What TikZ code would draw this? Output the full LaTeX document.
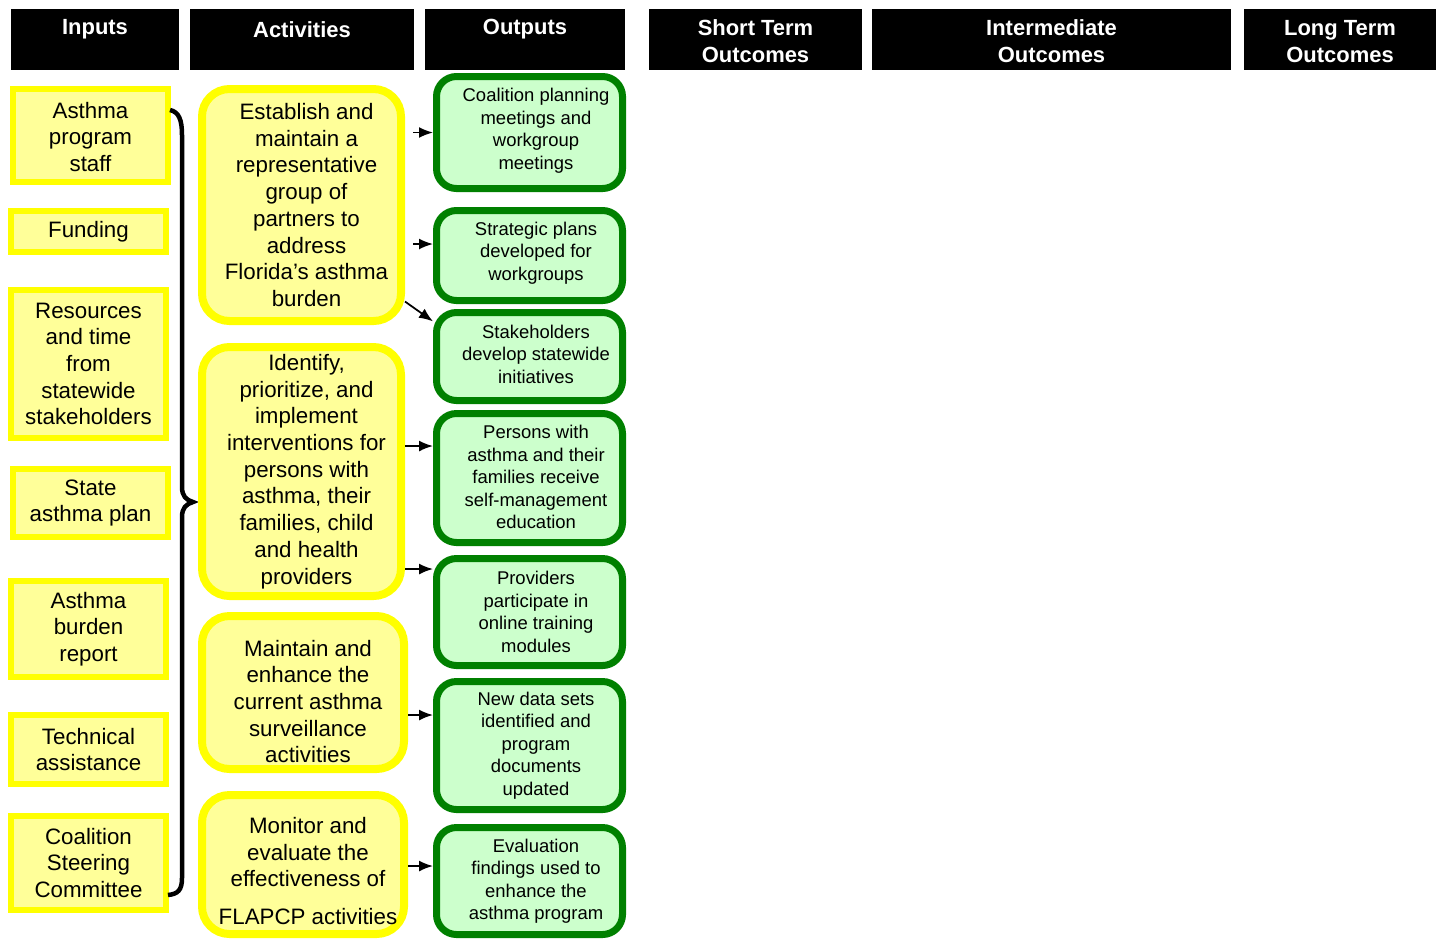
\documentclass[tikz,border=0pt]{standalone}
\usepackage{fontspec}
\setmainfont{Liberation Sans}
\usetikzlibrary{fit,arrows.meta}
\definecolor{boxyellow}{HTML}{FFFF00}
\definecolor{paleyellow}{HTML}{FFFF99}
\definecolor{darkgreen}{HTML}{008000}
\definecolor{palegreen}{HTML}{CCFFCC}

\begin{document}
\begin{tikzpicture}[x=0.02cm, y=-0.02cm,
  header/.style={fill=black, inner sep=0pt},
  headtext/.style={text=white, align=center, font=\bfseries\fontsize{12.5}{15.3}\selectfont},
  inbox/.style={draw=boxyellow, fill=paleyellow, line width=0.12cm, inner sep=0pt},
  intext/.style={align=center, font=\fontsize{12.7}{15.2}\selectfont},
  actbox/.style={draw=boxyellow, fill=paleyellow, line width=0.16cm, inner sep=0pt,
    rounded corners=0.55cm},
  acttext/.style={align=center, font=\fontsize{12.7}{15.2}\selectfont, xshift=0.1cm},
  outbox/.style={draw=darkgreen, fill=palegreen, line width=0.14cm, inner sep=0pt,
    rounded corners=0.4cm},
  outtext/.style={align=center, font=\fontsize{10.5}{12.8}\selectfont, xshift=0.13cm},
  arr/.style={-{Latex[length=0.28cm,width=0.22cm]}, line width=0.035cm}]
\clip (0,0) rectangle (1436,938);

% column headers
\node[header, fit={(11,9) (179,70)}, label={[headtext, yshift=0.2cm]center:Inputs}] (hin) {};
\node[header, fit={(190,9) (414,70)}, label={[headtext, yshift=0.2cm]center:Activities}] (hact) {};
\node[header, fit={(425,9) (625,70)}, label={[headtext, yshift=0.2cm]center:Outputs}] (hout) {};
\node[header, fit={(649,9) (862,70)}, label={[headtext, yshift=-0.04cm]center:{Short Term\\Outcomes}}] (hshort) {};
\node[header, fit={(872,9) (1231,70)}, label={[headtext, yshift=-0.04cm]center:{Intermediate\\Outcomes}}] (hmid) {};
\node[header, fit={(1244,9) (1436,70)}, label={[headtext, yshift=-0.04cm]center:{Long Term\\Outcomes}}] (hlong) {};

% inputs
\node[inbox, fit={(13,89) (168,182)}, label={[intext, yshift=-0.03cm]center:{Asthma\\program\\staff}}] (in1) {};
\node[inbox, fit={(11,211) (166,252)}, label={[intext]center:Funding}] (in2) {};
\node[inbox, fit={(11,290) (166,438)}, label={[intext]center:{Resources\\and time\\from\\statewide\\stakeholders}}] (in3) {};
\node[inbox, fit={(13,469) (168,537)}, label={[intext]center:{State\\asthma plan}}] (in4) {};
\node[inbox, fit={(11,581) (166,677)}, label={[intext]center:{Asthma\\burden\\report}}] (in5) {};
\node[inbox, fit={(11,715) (166,784)}, label={[intext]center:{Technical\\assistance}}] (in6) {};
\node[inbox, fit={(11,816) (166,910)}, label={[intext]center:{Coalition\\Steering\\Committee}}] (in7) {};

\draw[line width=0.09cm] (170,110) .. controls (179,112) and (182,120) .. (182,135)
  -- (182,487) .. controls (182,496) and (186,500) .. (193,502)
  .. controls (186,504) and (182,508) .. (182,517)
  -- (182,878) .. controls (182,890) and (178,894) .. (168,895);

% activities
\node[actbox, fit={(202,89) (401,321)}, label={[acttext]center:{Establish and\\maintain a\\representative\\group of\\partners to\\address\\Florida’s asthma\\burden}}] (act1) {};
\node[actbox, fit={(202,347) (401,596)}, label={[acttext]center:{Identify,\\prioritize, and\\implement\\interventions for\\persons with\\asthma, their\\families, child\\and health\\providers}}] (act2) {};
\node[actbox, fit={(202,616) (404,769)}, label={[acttext, yshift=-0.18cm]center:{Maintain and\\enhance the\\current asthma\\surveillance\\activities}}] (act3) {};
\node[actbox, fit={(202,795) (404,934)}, label={[acttext, yshift=-0.13cm]center:{Monitor and\\evaluate the\\effectiveness of\\[0.22cm]FLAPCP activities}}] (act4) {};

% outputs
\node[outbox, fit={(436.5,76.5) (622.5,188.5)}, label={[outtext, yshift=0.04cm]center:{Coalition planning\\meetings and\\workgroup\\meetings}}] (out1) {};
\node[outbox, fit={(436.5,210.5) (622.5,300.5)}, label={[outtext, yshift=0.05cm]center:{Strategic plans\\developed for\\workgroups}}] (out2) {};
\node[outbox, fit={(436.5,312.5) (622.5,400.5)}, label={[outtext, yshift=0.05cm]center:{Stakeholders\\develop statewide\\initiatives}}] (out3) {};
\node[outbox, fit={(436.5,413.5) (622.5,542.5)}, label={[outtext, yshift=0.02cm]center:{Persons with\\asthma and their\\families receive\\self-management\\education}}] (out4) {};
\node[outbox, fit={(436.5,558.5) (622.5,665.5)}, label={[outtext]center:{Providers\\participate in\\online training\\modules}}] (out5) {};
\node[outbox, fit={(436.5,681.5) (622.5,809.5)}, label={[outtext]center:{New data sets\\identified and\\program\\documents\\updated}}] (out6) {};
\node[outbox, fit={(436.5,827.5) (622.5,934.5)}, label={[outtext]center:{Evaluation\\findings used to\\enhance the\\asthma program}}] (out7) {};

% connectors
\coordinate (o2in) at ([yshift=0.23cm]out2.west);
\coordinate (o4in) at ([yshift=0.64cm]out4.west);
\coordinate (o5in) at ([yshift=0.86cm]out5.west);
\coordinate (o6in) at ([yshift=0.61cm]out6.west);
\coordinate (o7in) at ([yshift=0.30cm]out7.west);
\draw[arr, shorten <=0.16cm] (act1.east |- out1.west) -- (out1.west);
\draw[arr, shorten <=0.16cm] (act1.east |- o2in) -- (o2in);
\draw[arr] (act1.-43) -- (out3.160);
\draw[arr] (act2.east |- o4in) -- (o4in);
\draw[arr] (act2.east |- o5in) -- (o5in);
\draw[arr] (act3.east |- o6in) -- (o6in);
\draw[arr] (act4.east |- o7in) -- (o7in);
\end{tikzpicture}
\end{document}
